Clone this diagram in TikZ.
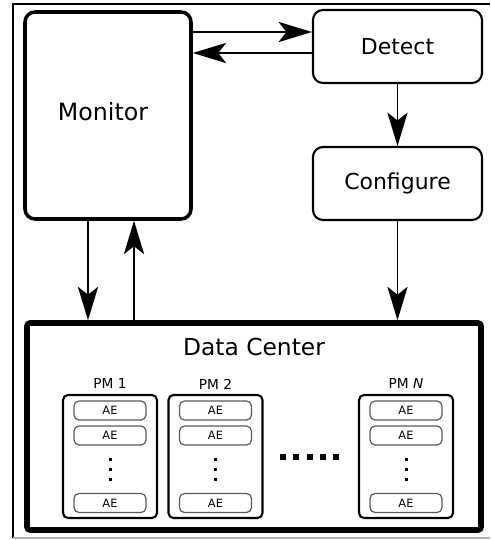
\documentclass[tikz,border=0pt]{standalone}
\usepackage{fontspec}
\setmainfont{DejaVu Sans}
\usetikzlibrary{arrows.meta, positioning, calc}

\begin{document}
\begin{tikzpicture}[
  bigbox/.style={draw, rounded corners=0.2cm, line width=1.2pt,
                 minimum width=3.38cm, minimum height=1.46cm,
                 font=\fontsize{12.5pt}{15pt}\selectfont},
  pmbox/.style={draw, rounded corners=0.1cm, line width=1.2pt,
                minimum width=1.88cm, minimum height=2.46cm},
  aebox/.style={draw=black!65, rounded corners=0.1cm, line width=0.7pt,
                minimum width=1.44cm, minimum height=0.38cm, inner sep=0pt,
                font=\fontsize{6.5pt}{8pt}\selectfont},
  pmlbl/.style={font=\fontsize{7.8pt}{9pt}\selectfont},
  arr/.style={-{Stealth[length=19pt, width=11.5pt, inset=4.5pt]}, line width=1.1pt}]
  \useasboundingbox (0,0) rectangle (9.8,-10.8);
  % frame
  \draw[line width=0.7pt] (9.8,-0.08) -- (0.26,-0.08) -- (0.26,-10.76);
  \draw[line width=0.7pt, black!30] (0.26,-10.76) -- (9.8,-10.76);
  % monitor, detect, configure
  \node[draw, rounded corners=0.2cm, line width=2pt, minimum width=3.32cm,
        minimum height=4.14cm] (Monitor) at (2.16,-2.31) {};
  \node[font=\fontsize{13.5pt}{16pt}\selectfont] (MonLbl) at (2.06,-2.24) {Monitor};
  \node[bigbox] (Detect) at (7.95,-0.93) {Detect};
  \node[bigbox] (Configure) at (7.95,-3.67) {Configure};
  % data center
  \node[draw, rounded corners=0.06cm, line width=3.2pt, minimum width=9.08cm,
        minimum height=4.14cm] (DC) at (5.08,-8.53) {};
  \node[font=\fontsize{13.3pt}{16pt}\selectfont] (DCLbl) at (5.08,-6.94) {Data Center};
  % physical machines
  \foreach \nm/\x/\txt in {pma/2.2/{PM 1}, pmb/4.31/{PM 2}, pmn/8.12/{PM \textit{N}}} {
    \node[pmbox] (\nm) at (\x,-9.13) {};
    \node[pmlbl] (\nm-l) at ([yshift=0.2cm]\nm.north) {\txt};
    \node[aebox] (\nm-1) at ([yshift=0.92cm]\nm.center) {AE};
    \node[aebox] (\nm-2) at ([yshift=0.42cm]\nm.center) {AE};
    \node[aebox] (\nm-3) at ([yshift=-0.93cm]\nm.center) {AE};
    \foreach \d in {-0.05,-0.25,-0.45}
      \fill ($(\nm.center)+(-0.03,\d-0.03)$) rectangle ++(0.06,0.06);
  }
  \foreach \i in {0,...,4}
    \fill ({5.6+0.267*\i},-9.2) rectangle ++(0.12,0.12);
  % connectors
  \coordinate (d1) at ([yshift=0.29cm]Detect.west);
  \coordinate (d2) at ([yshift=-0.13cm]Detect.west);
  \draw[arr] (Monitor.east |- d1) -- (d1);
  \draw[arr] (d2) -- (Monitor.east |- d2);
  \draw[arr] (Detect) -- (Configure);
  \draw[arr] (Configure.south) -- (Configure.south |- DC.north);
  \coordinate (m1) at ([xshift=-0.4cm]Monitor.south);
  \coordinate (m2) at ([xshift=0.52cm]Monitor.south);
  \draw[arr] (m1) -- (m1 |- DC.north);
  \draw[arr] (m2 |- DC.north) -- (m2);
\end{tikzpicture}
\end{document}
